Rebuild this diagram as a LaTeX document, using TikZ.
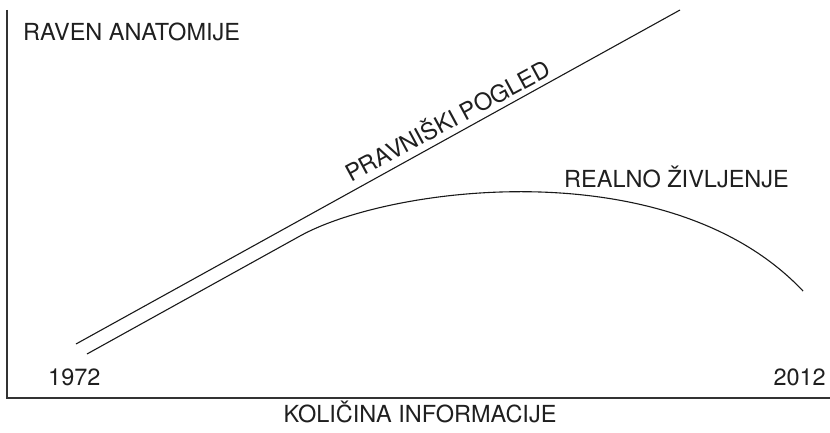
\documentclass[tikz,border=0pt]{standalone}
\usepackage{fontspec}
\setmainfont{TeX Gyre Heros}
\begin{document}
\begin{tikzpicture}[x=1pt,y=-1pt,
  lbl/.style={inner sep=0pt,font=\fontsize{23.5}{27}\selectfont,text=black!88},
  axis/.style={line width=1.3pt,draw=black!80},
  curve/.style={line width=1.1pt,draw=black!90}]
\useasboundingbox (0,0) rectangle (830,433);
% axes
\coordinate (top) at (7,10);
\coordinate (orig) at (7,398);
\coordinate (right) at (830,398);
\draw[axis] (top) -- (orig) -- (right);
% legal view line
\coordinate (p1) at (76,344);
\coordinate (p2) at (680,10);
\draw[curve] (p1) -- (p2);
% real life curve
\coordinate (r1) at (87,354);
\coordinate (r2) at (300,236);
\coordinate (r3) at (803,291);
\draw[curve] (r1) -- (r2) .. controls (390,186) and (670,150) .. (r3);
% labels
\node[lbl,anchor=base west] (ylab) at (23,41) {RAVEN ANATOMIJE};
\node[lbl,anchor=base west,rotate=28.3] (prav) at (351,183) {PRAVNIŠKI POGLED};
\node[lbl,anchor=base west] (real) at (564,187) {REALNO ŽIVLJENJE};
\node[lbl,anchor=base west] (y1) at (48,385) {1972};
\node[lbl,anchor=base east] (y2) at (826,385) {2012};
\node[lbl,anchor=base] (xlab) at (420,422) {KOLIČINA INFORMACIJE};
\end{tikzpicture}
\end{document}
